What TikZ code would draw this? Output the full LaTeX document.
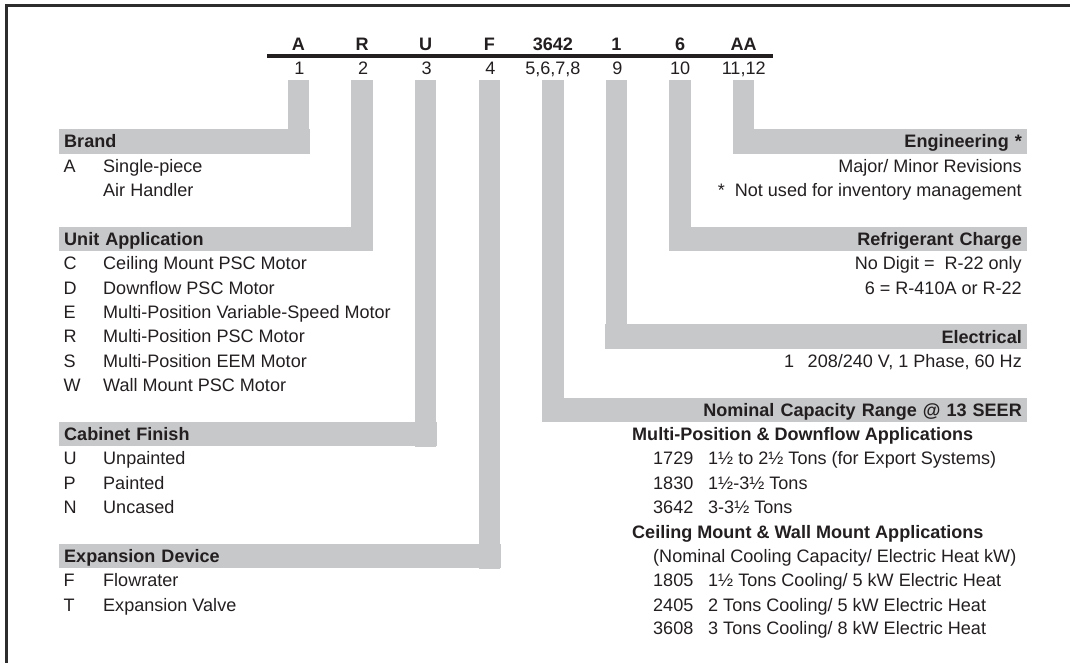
\documentclass[tikz,border=0pt]{standalone}
\usepackage{fontspec}
\setmainfont{Liberation Sans}
\definecolor{txt}{RGB}{35,31,32}
\definecolor{bandgray}{RGB}{199,200,202}
\definecolor{framec}{RGB}{45,45,45}
\newcommand{\fs}{\fontsize{18.05pt}{21pt}\selectfont}
\begin{document}
\begin{tikzpicture}[x=1pt,y=-1pt,
  every node/.style={text=txt, inner sep=0pt, font=\fs, text height=12.9pt, text depth=0pt},
  hdr/.style={font=\fs\bfseries, anchor=center},
  num/.style={anchor=center},
  bandL/.style={fill=bandgray, anchor=north west, minimum height=24.4pt, inner xsep=5pt, align=left, font=\fs\bfseries},
  bandR/.style={fill=bandgray, anchor=north east, minimum height=24.4pt, inner xsep=5pt, align=right, font=\fs\bfseries},
  item/.style={anchor=west},
  itemR/.style={anchor=east},
  grp/.style={anchor=west, font=\fs\bfseries},
  bar/.style={draw=bandgray, line width=21.5pt},
  codeline/.style={draw=txt, line width=4.3pt},
  framel/.style={draw=framec, line width=2.6pt}
]
\useasboundingbox (0,0) rectangle (1070,662);
% frame
\coordinate (f1) at (6.5,670);
\coordinate (f2) at (6.5,5.2);
\coordinate (f3) at (1080,5.2);
\draw[framel] (f1) -- (f2) -- (f3);

% code header
\node[hdr] (h1) at (298.5,44) {A};
\node[hdr] (h2) at (362.1,44) {R};
\node[hdr] (h3) at (425.7,44) {U};
\node[hdr] (h4) at (489.3,44) {F};
\node[hdr] (h5) at (552.9,44) {3642};
\node[hdr] (h6) at (616.5,44) {1};
\node[hdr] (h7) at (680.1,44) {6};
\node[hdr] (h8) at (743.7,44) {AA};
\coordinate (lineL) at (267,56.3);
\coordinate (lineR) at (773,56.3);
\draw[codeline] (lineL) -- (lineR);
\node[num] (n1) at (299.5,68.5) {1};
\node[num] (n2) at (363.1,68.5) {2};
\node[num] (n3) at (426.7,68.5) {3};
\node[num] (n4) at (490.3,68.5) {4};
\node[num] (n5) at (552.9,68.5) {5,6,7,8};
\node[num] (n6) at (617.5,68.5) {9};
\node[num] (n7) at (680.1,68.5) {10};
\node[num] (n8) at (743.7,68.5) {11,12};

% bar tops
\coordinate (b1) at (298.5,80);
\coordinate (b2) at (362.1,80);
\coordinate (b3) at (425.7,80);
\coordinate (b4) at (489.3,80);
\coordinate (b5) at (552.9,80);
\coordinate (b6) at (616.5,80);
\coordinate (b7) at (680.1,80);
\coordinate (b8) at (743.7,80);

% left bands
\node[bandL, text width=240.5pt] (brand) at (59,129) {Brand};
\node[bandL, text width=304.1pt] (unit) at (59,226.6) {Unit Application};
\node[bandL, text width=367.7pt] (cab) at (59,421.8) {Cabinet Finish};
\node[bandL, text width=431.3pt] (exp) at (59,543.8) {Expansion Device};
% right bands
\node[bandR, text width=284.3pt] (eng) at (1027,129) {Engineering *};
\node[bandR, text width=347.9pt] (ref) at (1027,226.6) {Refrigerant Charge};
\node[bandR, text width=411.5pt] (elec) at (1027,324.2) {Electrical};
\node[bandR, text width=475.1pt] (nom) at (1027,397.4) {Nominal Capacity Range @ 13 SEER};

% connector bars
\draw[bar] (b1) -- (b1 |- brand.south);
\draw[bar] (b2) -- (b2 |- unit.south);
\draw[bar] (b3) -- (b3 |- cab.south);
\draw[bar] (b4) -- (b4 |- exp.south);
\draw[bar] (b5) -- (b5 |- nom.south);
\draw[bar] (b6) -- (b6 |- elec.south);
\draw[bar] (b7) -- (b7 |- ref.south);
\draw[bar] (b8) -- (b8 |- eng.south);

% left items
\node[item] (la1) at (63.5,165.6) {\makebox[39.5pt][l]{A}Single-piece};
\node[item] (la2) at (103,190.0) {Air Handler};
\node[item] (lu1) at (63.5,263.2) {\makebox[39.5pt][l]{C}Ceiling Mount PSC Motor};
\node[item] (lu2) at (63.5,287.6) {\makebox[39.5pt][l]{D}Downflow PSC Motor};
\node[item] (lu3) at (63.5,312.0) {\makebox[39.5pt][l]{E}Multi-Position Variable-Speed Motor};
\node[item] (lu4) at (63.5,336.4) {\makebox[39.5pt][l]{R}Multi-Position PSC Motor};
\node[item] (lu5) at (63.5,360.8) {\makebox[39.5pt][l]{S}Multi-Position EEM Motor};
\node[item] (lu6) at (63.5,385.2) {\makebox[39.5pt][l]{W}Wall Mount PSC Motor};
\node[item] (lc1) at (63.5,458.4) {\makebox[39.5pt][l]{U}Unpainted};
\node[item] (lc2) at (63.5,482.8) {\makebox[39.5pt][l]{P}Painted};
\node[item] (lc3) at (63.5,507.2) {\makebox[39.5pt][l]{N}Uncased};
\node[item] (le1) at (63.5,580.4) {\makebox[39.5pt][l]{F}Flowrater};
\node[item] (le2) at (63.5,604.8) {\makebox[39.5pt][l]{T}Expansion Valve};

% right items
\node[itemR] (re1) at (1022,165.6) {Major/ Minor Revisions};
\node[itemR] (re2) at (1022,190.0) {*\hspace{0.55em}Not used for inventory management};
\node[itemR] (rr1) at (1022,263.2) {No Digit =\hspace{0.55em}R-22 only};
\node[itemR] (rr2) at (1022,287.6) {6 = R-410A or R-22};
\node[itemR] (rl1) at (1022,360.8) {1\hspace{0.75em}208/240 V, 1 Phase, 60 Hz};
\node[grp] (g1) at (632,434.0) {Multi-Position \& Downflow Applications};
\node[item] (rn1) at (653,458.4) {\makebox[55pt][l]{1729}1½ to 2½ Tons (for Export Systems)};
\node[item] (rn2) at (653,482.8) {\makebox[55pt][l]{1830}1½-3½ Tons};
\node[item] (rn3) at (653,507.2) {\makebox[55pt][l]{3642}3-3½ Tons};
\node[grp] (g2) at (632,531.6) {Ceiling Mount \& Wall Mount Applications};
\node[item] (rn4) at (653,556.0) {(Nominal Cooling Capacity/ Electric Heat kW)};
\node[item] (rn5) at (653,580.4) {\makebox[55pt][l]{1805}1½ Tons Cooling/ 5 kW Electric Heat};
\node[item] (rn6) at (653,604.8) {\makebox[55pt][l]{2405}2 Tons Cooling/ 5 kW Electric Heat};
\node[item] (rn7) at (653,628.4) {\makebox[55pt][l]{3608}3 Tons Cooling/ 8 kW Electric Heat};
\end{tikzpicture}
\end{document}
